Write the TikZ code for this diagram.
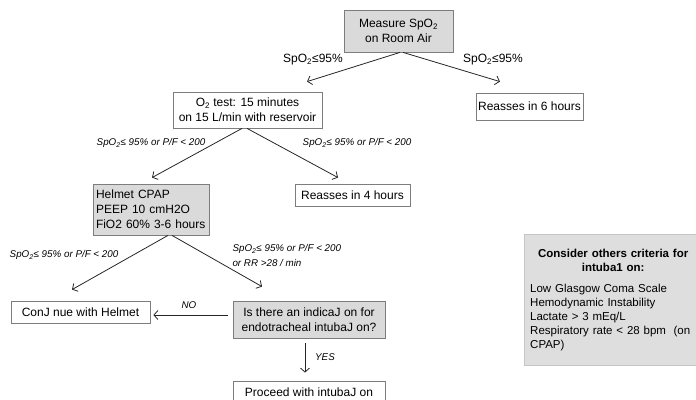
\documentclass[tikz,border=0pt]{standalone}
\usepackage{fontspec}
\setmainfont{Liberation Sans}
\usetikzlibrary{arrows.meta}
\definecolor{boxgray}{RGB}{218,218,218}
\definecolor{critgray}{RGB}{222,222,222}
\definecolor{edgegray}{RGB}{125,125,125}
\begin{document}
\begin{tikzpicture}[x=1pt, y=-1pt,
	box/.style={draw=edgegray, line width=0.8pt, inner sep=0pt, align=center,
		font=\fontsize{12}{15}\selectfont},
	graybox/.style={box, fill=boxgray},
	arr/.style={-{Straight Barb[length=4pt,width=9pt]}, line width=0.8pt, draw=black!85},
	lab/.style={font=\fontsize{12}{14}\selectfont},
	cond/.style={font=\fontsize{9.8}{15}\selectfont\itshape}]
		
		\clip (0,0) rectangle (696,399);
		
		% Start
		\node [graybox,
		minimum width=109pt,
		minimum height=42pt] (meas) at (398.5,31) {Measure SpO\textsubscript{2}\\on Room Air};
		
		\node [box,
		minimum width=149pt,
		minimum height=36pt] (o2test) at (247.5,110) {O\textsubscript{2} test: 15 minutes\\on 15 L/min with reservoir};
		
		\node [box,
		minimum width=107pt,
		minimum height=27pt] (reas6) at (529.5,106.5) {Reasses in 6 hours};
		
		\node [graybox,
		minimum width=116pt,
		minimum height=51pt,
		align=left,
		inner xsep=3pt,
		text width=110pt] (helmet) at (151,209.5) {Helmet CPAP\\PEEP 10 cmH2O\\FiO2 60\% 3-6 hours};
		
		\node [box,
		minimum width=115pt,
		minimum height=22pt] (reas4) at (352.5,195) {Reasses in 4 hours};
		
		\node [box,
		minimum width=139pt,
		minimum height=22pt] (cont) at (80.5,312) {ConJ nue with Helmet};
		
		\node [graybox,
		minimum width=152pt,
		minimum height=37pt] (indic) at (309,319.5) {Is there an indicaJ on for\\endotracheal intubaJ on?};
		
		\node [box,
		minimum width=152pt,
		minimum height=22pt] (proceed) at (309,392) {Proceed with intubaJ on};
		
		% Criteria
		\node [draw=gray!45,
		fill=critgray,
		anchor=north west,
		minimum width=198pt,
		minimum height=131pt,
		text width=186pt,
		align=left,
		inner xsep=6pt,
		inner ysep=0pt,
		font=\fontsize{11.5}{14}\selectfont] (crit) at (524,234)
		{\makebox[166pt]{\bfseries Consider others criteria for}\\\makebox[166pt]{\bfseries intuba1 on:}\\[7pt]
		Low Glasgow Coma Scale\\Hemodynamic Instability\\Lactate > 3 mEq/L\\Respiratory rate < 28 bpm~~(on\\CPAP)\\[6pt]};
		
		% Arrows
		\draw [arr] ([xshift=1.5pt]meas.south) -- ([shift={(59.5,-10)}]o2test.north);
		\draw [arr] ([xshift=4.5pt]meas.south) -- ([shift={(-29.5,-11)}]reas6.north);
		\draw [arr] ([xshift=-5.5pt]o2test.south) -- ([shift={(1,-6)}]helmet.north);
		\draw [arr] ([xshift=-0.5pt]o2test.south) -- ([shift={(-14.5,-6)}]reas4.north);
		\draw [arr] ([xshift=17pt]helmet.south) -- ([shift={(-8.5,-11)}]cont.north);
		\draw [arr] ([xshift=21pt]helmet.south) -- ([shift={(-47,-14)}]indic.north);
		\draw [arr] ([shift={(-5,-4.5)}]indic.west) -- ([shift={(3,3)}]cont.east);
		\draw [arr] ([shift={(-4,5)}]indic.south) -- ([shift={(-4,-8)}]proceed.north);
		
		% Labels
		\node [lab] (c1) at (313,60) {SpO\textsubscript{2}≤95\%};
		\node [lab] (c2) at (493,60) {SpO\textsubscript{2}≤95\%};
		\node [cond] (c3) at (151,143) {SpO\textsubscript{2}≤ 95\% or P/F < 200};
		\node [cond] (c4) at (357,143) {SpO\textsubscript{2}≤ 95\% or P/F < 200};
		\node [cond] (c5) at (64,255) {SpO\textsubscript{2}≤ 95\% or P/F < 200};
		\node [cond, anchor=west, align=left] (c6) at (229,255.5) {SpO\textsubscript{2}≤ 95\% or P/F < 200\\or RR >28 / min};
		\node [cond] (no) at (189,305) {NO};
		\node [cond] (yes) at (325,357) {YES};
		
	\end{tikzpicture}
\end{document}
